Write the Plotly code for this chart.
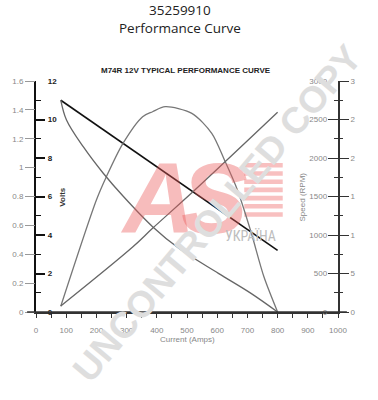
import plotly.graph_objects as go

# ---- data ----
volt_amps = [82, 800]
volt_vals = [11.0, 3.2]

speed_amps = [82, 101, 157, 222, 288, 386, 473, 604, 712, 800]
speed_rpm = [2753, 2494, 2143, 1805, 1506, 1108, 827, 502, 242, 0]

torque_amps = [82, 320, 386, 526, 800]
torque_vals = [0.078, 0.844, 1.087, 1.584, 2.593]

power_amps = [82, 200, 233, 288, 353, 386, 428, 516, 582, 624, 667, 712, 755, 800]
power_vals = [0.04, 0.776, 0.937, 1.168, 1.353, 1.387, 1.422, 1.376, 1.238, 1.053, 0.845, 0.554, 0.242, 0.0]

x_ticks = list(range(0, 1001, 100))
volt_ticks = [0, 2, 4, 6, 8, 10, 12]
volt_minor = [1, 3, 5, 7, 9, 11]
left_ticks = [0, 0.2, 0.4, 0.6, 0.8, 1.0, 1.2, 1.4, 1.6]
left_text = ["0", "0.2", "0.4", "0.6", "0.8", "1", "1.2", "1.4", "1.6"]
speed_ticks = [0, 500, 1000, 1500, 2000, 2500, 3000]
speed_minor = [250, 750, 1250, 1750, 2250, 2750]
right_ticks = [0, 0.5, 1, 1.5, 2, 2.5, 3]
right_text = ["0", "5", "1", "1", "2", "2", "3"]
right_minor = [0.25, 0.75, 1.25, 1.75, 2.25, 2.75]

W, H = 378, 400
L, R, T, B = 32, 40, 81, 88
PW, PH = W - L - R, H - T - B


def px(x):
    return (x - L) / PW


def py(y):
    return (H - B - y) / PH


FONT = "Liberation Sans, Arial, sans-serif"
fig = go.Figure()

fig.add_trace(go.Scatter(x=power_amps, y=power_vals, yaxis="y2", mode="lines",
                         line=dict(color="#777", width=1.3, shape="spline", smoothing=0.8),
                         hoverinfo="skip"))
fig.add_trace(go.Scatter(x=torque_amps, y=torque_vals, yaxis="y4", mode="lines",
                         line=dict(color="#666", width=1.3, shape="spline"), hoverinfo="skip"))
fig.add_trace(go.Scatter(x=speed_amps, y=speed_rpm, yaxis="y3", mode="lines",
                         line=dict(color="#666", width=1.3, shape="spline"), hoverinfo="skip"))
fig.add_trace(go.Scatter(x=volt_amps, y=volt_vals, yaxis="y", mode="lines",
                         line=dict(color="#111", width=1.6), hoverinfo="skip"))
# helper (invisible) traces so the label-only axes are drawn
fig.add_trace(go.Scatter(x=volt_amps, y=volt_vals, yaxis="y5", mode="none", hoverinfo="skip"))
fig.add_trace(go.Scatter(x=speed_amps, y=speed_rpm, yaxis="y6", mode="none", hoverinfo="skip"))

tick_font = dict(family=FONT, size=8, color="#888")

shapes = []
# logo stripes
for i in range(7):
    y0 = 163 + i * 8.2
    shapes.append(dict(type="rect", xref="paper", yref="paper", layer="below",
                       x0=px(243), x1=px(282), y0=py(y0), y1=py(y0 + 4.6),
                       fillcolor="#f8c0c0", line=dict(width=0)))
# extended x axis line
shapes.append(dict(type="line", xref="paper", yref="paper", x0=px(23), x1=px(347),
                   y0=0, y1=0, line=dict(color="#333", width=1.5)))


def ann(text, x, y, size, color, family=FONT, angle=0, opacity=1):
    return dict(text=text, x=px(x), y=py(y), xref="paper", yref="paper", showarrow=False,
                xanchor="center", yanchor="middle", textangle=angle, opacity=opacity,
                font=dict(family=family, size=size, color=color))


annotations = [
    ann("35259910", 178, 9.5, 13.5, "#222", "Open Sans, sans-serif"),
    ann("Performance Curve", 178, 27.5, 13.5, "#222", "Open Sans, sans-serif"),
    ann("<b>M74R 12V TYPICAL PERFORMANCE CURVE</b>", 184, 71, 8, "#222"),
    ann("Current (Amps)", 185, 339, 8, "#888"),
    ann("<b>Volts</b>", 58, 197, 8, "#333", angle=-90),
    ann("Speed (RPM)", 302, 197, 8, "#888", angle=-90),
    # logo
    ann("<b><i>A</i></b>", 155, 198, 100, "#ec5a5a", opacity=0.4),
    ann("<b><i>S</i></b>", 213, 198, 100, "#ec5a5a", opacity=0.4),
    ann("УКРАЇНА", 249, 236, 14, "#bdbdbd", "Liberation Sans Narrow, Roboto Condensed, sans-serif"),
    # watermark
    ann("<b>UNCONTROLLED COPY</b>", 216, 214, 37, "#dedede", angle=-50),
]

fig.update_layout(
    width=W, height=H, margin=dict(l=L, r=R, t=T, b=B),
    paper_bgcolor="white", plot_bgcolor="white", showlegend=False,
    xaxis=dict(range=[0, 1000], tickvals=x_ticks, showline=True, linecolor="#333", linewidth=1.5,
               ticks="outside", ticklen=4, tickcolor="#333", tickwidth=1,
               minor=dict(dtick=50, ticks="outside", ticklen=4, tickcolor="#333"),
               tickfont=tick_font, ticklabelstandoff=6, showgrid=False, zeroline=False),
    # volts axis line + ticks
    yaxis=dict(range=[0, 12], tickvals=volt_ticks, showline=True, linecolor="#111", linewidth=1.6,
               ticks="inside", ticklen=9, tickwidth=1.5, tickcolor="#111", showticklabels=False,
               minor=dict(tickvals=volt_minor, ticks="inside", ticklen=5, tickcolor="#111", tickwidth=1.2),
               showgrid=False, zeroline=False),
    # outer left scale
    yaxis2=dict(range=[0, 1.6], overlaying="y", side="left", anchor="x", tickvals=left_ticks,
                ticktext=left_text, ticks="outside", ticklen=10, tickcolor="#999", tickwidth=1,
                tickfont=tick_font, showline=False, showgrid=False, zeroline=False),
    # speed axis line + ticks
    yaxis3=dict(range=[0, 3000], overlaying="y", side="right", anchor="x", tickvals=speed_ticks,
                showline=True, linecolor="#333", linewidth=1.5, ticks="inside", ticklen=10,
                tickcolor="#333", tickwidth=1, showticklabels=False,
                minor=dict(tickvals=speed_minor, ticks="inside", ticklen=4, tickcolor="#333"),
                showgrid=False, zeroline=False),
    # outer right scale
    yaxis4=dict(range=[0, 3], overlaying="y", side="right", anchor="x", tickvals=right_ticks,
                ticktext=right_text, ticks="outside", ticklen=10, tickcolor="#333", tickwidth=1,
                minor=dict(tickvals=right_minor, ticks="outside", ticklen=4, tickcolor="#333"),
                tickfont=tick_font, showline=False, showgrid=False, zeroline=False),
    # volts labels (inside the plot)
    yaxis5=dict(range=[0, 12], overlaying="y", side="right", anchor="free", position=px(43),
                tickvals=volt_ticks, ticks="", showline=False, showgrid=False, zeroline=False,
                tickfont=dict(family=FONT, size=8, color="#222", weight="bold")),
    # speed labels (inside the plot)
    yaxis6=dict(range=[0, 3000], overlaying="y", side="left", anchor="free", position=px(327),
                tickvals=speed_ticks, ticks="", showline=False, showgrid=False, zeroline=False,
                tickfont=tick_font),
    shapes=shapes, annotations=annotations,
)

fig.write_html("out.html")
